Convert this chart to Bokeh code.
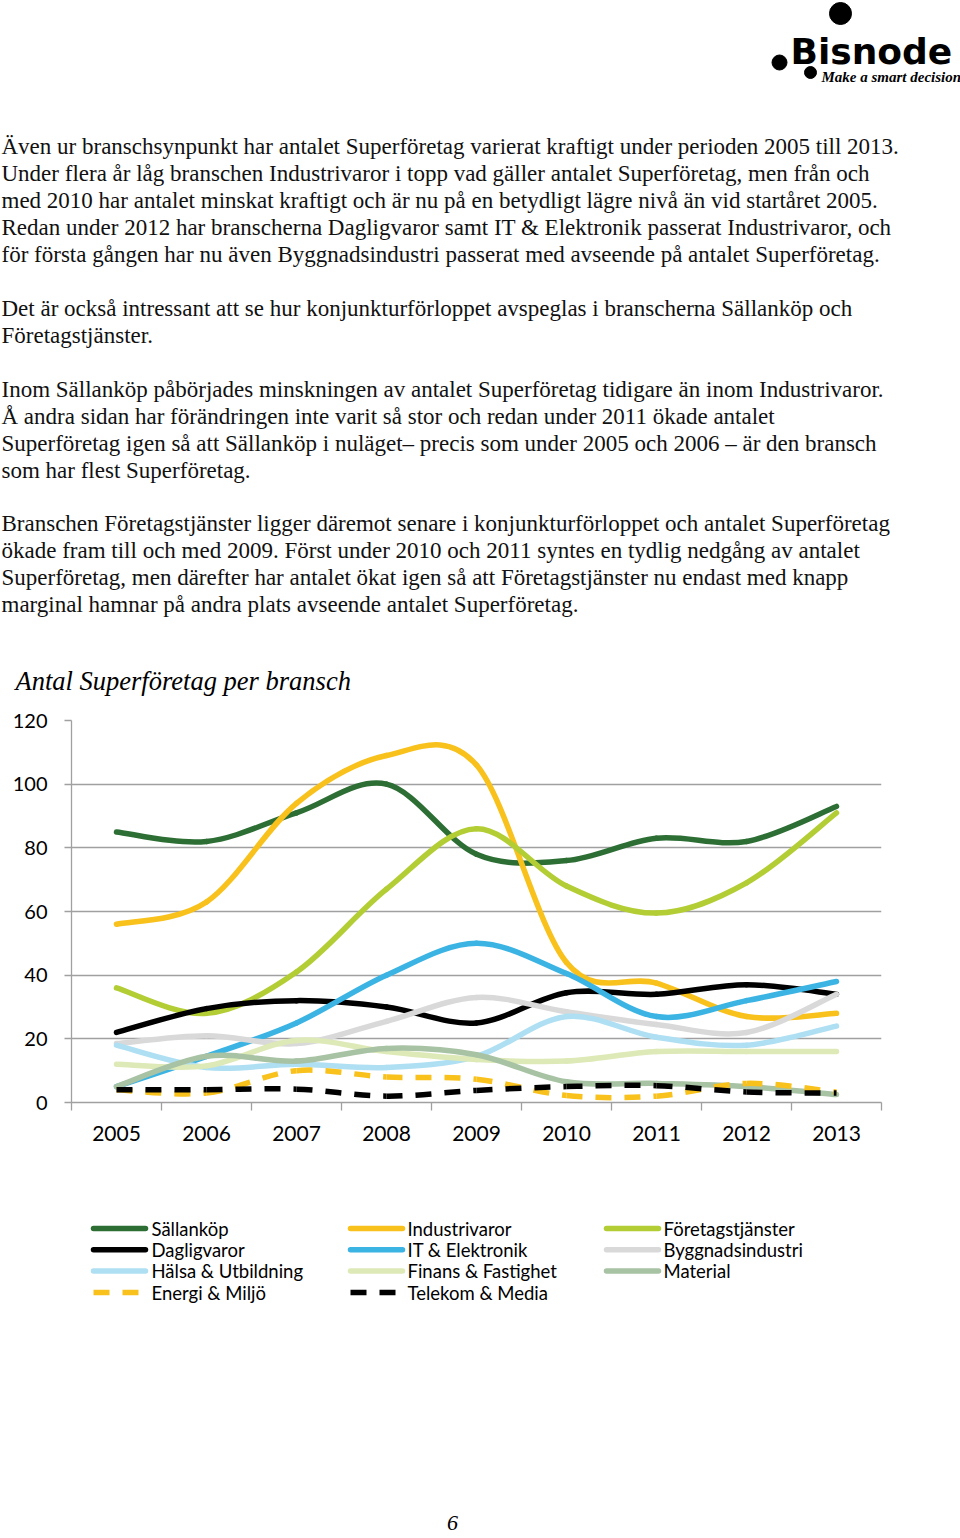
from bokeh.plotting import figure
from bokeh.layouts import column
from bokeh.models import Range1d, FixedTicker, ColumnDataSource
from bokeh.core.properties import value
from bokeh.embed import file_html
from bokeh.resources import INLINE

# ---------------- data ----------------
years = ["2005", "2006", "2007", "2008", "2009", "2010", "2011", "2012", "2013"]
y_ticks = [0, 20, 40, 60, 80, 100, 120]

series_names = ["Sällanköp", "Industrivaror", "Företagstjänster",
                "Dagligvaror", "IT & Elektronik", "Byggnadsindustri",
                "Hälsa & Utbildning", "Finans & Fastighet", "Material",
                "Energi & Miljö", "Telekom & Media"]

sallankop = [85, 82, 91, 100, 78, 76, 83, 82, 93]
industrivaror = [56, 63, 94, 109, 106, 44, 37.5, 27, 28]
foretagstjanster = [36, 28, 41, 67, 86, 68, 59.5, 69, 91]
dagligvaror = [22, 29.5, 32, 30, 25, 34.5, 34, 37, 34]
it_elektronik = [5, 14.5, 25, 40, 50, 40.5, 27, 32, 38]
byggnadsindustri = [18.5, 21, 18.5, 25.5, 33, 28.5, 24.5, 22, 34]
halsa_utbildning = [18, 11, 12, 11, 14.5, 27, 20.5, 18, 24]
finans_fastighet = [12, 11.5, 19.5, 16, 13.5, 13, 16, 16, 16]
material = [5, 14.5, 13, 17, 15, 6.5, 6, 5, 2.5]
energi_miljo = [4, 3, 10, 8, 7.3, 2.2, 2, 6, 3.3]
telekom_media = [4, 4, 4.2, 2, 3.8, 5, 5.3, 3.3, 3]

series_values = [sallankop, industrivaror, foretagstjanster, dagligvaror,
                 it_elektronik, byggnadsindustri, halsa_utbildning,
                 finans_fastighet, material, energi_miljo, telekom_media]

# ---------------- styles ----------------
colors = ["#2D6E34", "#F8C11C", "#B3CD34", "#000000", "#3BB4E4", "#D9D9D9",
          "#AEDFF2", "#DDE9B6", "#A8C2A4", "#F8C11C", "#000000"]
dashed = [False] * 9 + [True, True]
DASH = "16 13"
LW = 5.5

body_lines = [
    ["Även ur branschsynpunkt har antalet Superföretag varierat kraftigt under perioden 2005 till 2013.",
     "Under flera år låg branschen Industrivaror i topp vad gäller antalet Superföretag, men från och",
     "med 2010 har antalet minskat kraftigt och är nu på en betydligt lägre nivå än vid startåret 2005.",
     "Redan under 2012 har branscherna Dagligvaror samt IT & Elektronik passerat Industrivaror, och",
     "för första gången har nu även Byggnadsindustri passerat med avseende på antalet Superföretag."],
    ["Det är också intressant att se hur konjunkturförloppet avspeglas i branscherna Sällanköp och",
     "Företagstjänster."],
    ["Inom Sällanköp påbörjades minskningen av antalet Superföretag tidigare än inom Industrivaror.",
     "Å andra sidan har förändringen inte varit så stor och redan under 2011 ökade antalet",
     "Superföretag igen så att Sällanköp i nuläget– precis som under 2005 och 2006 – är den bransch",
     "som har flest Superföretag."],
    ["Branschen Företagstjänster ligger däremot senare i konjunkturförloppet och antalet Superföretag",
     "ökade fram till och med 2009. Först under 2010 och 2011 syntes en tydlig nedgång av antalet",
     "Superföretag, men därefter har antalet ökat igen så att Företagstjänster nu endast med knapp",
     "marginal hamnar på andra plats avseende antalet Superföretag."],
]
para_tops = [146, 308, 389, 523]
LINE_H = 26.9

W = 960
HA, HB, HC = 705, 455, 377

SERIF = "Liberation Serif"
SANS = "Lato"


def blank(h):
    p = figure(width=W, height=h, x_range=Range1d(0, W), y_range=Range1d(h, 0),
               output_backend="svg", toolbar_location=None,
               x_axis_location=None, y_axis_location=None,
               min_border=0, outline_line_color=None,
               background_fill_color="white", border_fill_color="white")
    p.grid.visible = False
    p.min_border_left = p.min_border_right = 0
    p.min_border_top = p.min_border_bottom = 0
    p.frame_align = False
    return p


# ---------------- header + text ----------------
pa = blank(HA)
# logo
pa.circle(x=[840, 779, 810], y=[13, 62, 72], radius=[11, 7.5, 6], color="black")
pa.text(x=[790], y=[51], text=["Bisnode"], text_font=value("DejaVu Sans"),
        text_font_size=value("36px"), text_font_style="bold", text_color="black",
        text_baseline="alphabetic", text_align="left")
pa.text(x=[821], y=[76], text=["Make a smart decision"], text_font=value(SERIF),
        text_font_size=value("15px"), text_font_style="bold italic", text_color="black",
        text_baseline="middle", text_align="left")

xs, ys, ts = [], [], []
for top, lines in zip(para_tops, body_lines):
    for i, t in enumerate(lines):
        xs.append(1)
        ys.append(top + i * LINE_H)
        ts.append(t)
pa.text(x=xs, y=ys, text=ts, text_font=value(SERIF), text_font_size=value("23px"),
        text_color="#111111", text_baseline="middle", text_align="left")

pa.text(x=[15], y=[680], text=["Antal Superföretag per bransch"], text_font=value(SERIF),
        text_font_size=value("26.5px"), text_font_style="italic", text_color="black",
        text_baseline="middle", text_align="left")

# ---------------- chart ----------------
pb = figure(width=W, height=HB, x_range=Range1d(-0.5, len(years) - 0.5),
            y_range=Range1d(0, 120), output_backend="svg", toolbar_location=None,
            min_border_left=71, min_border_right=79, min_border_top=15,
            min_border_bottom=58, outline_line_color=None,
            background_fill_color="white", border_fill_color="white")
pb.frame_align = False

GRAY = "#A0A0A0"
pb.xgrid.visible = False
pb.ygrid.grid_line_color = GRAY
pb.ygrid.grid_line_width = 1.3
pb.ygrid.ticker = FixedTicker(ticks=y_ticks)

pb.yaxis.ticker = FixedTicker(ticks=y_ticks)
pb.yaxis.axis_line_color = GRAY
pb.yaxis.axis_line_width = 1.3
pb.yaxis.major_tick_line_color = GRAY
pb.yaxis.major_tick_line_width = 1.3
pb.yaxis.major_tick_out = 7
pb.yaxis.major_tick_in = 0
pb.yaxis.minor_tick_line_color = None
pb.yaxis.major_label_text_font = SANS
pb.yaxis.major_label_text_font_size = "20px"
pb.yaxis.major_label_text_color = "black"
pb.yaxis.major_label_standoff = 17

pb.xaxis.ticker = FixedTicker(ticks=list(range(len(years))),
                              minor_ticks=[i - 0.5 for i in range(len(years) + 1)])
pb.xaxis.major_label_overrides = {i: y for i, y in enumerate(years)}
pb.xaxis.axis_line_color = GRAY
pb.xaxis.axis_line_width = 1.3
pb.xaxis.major_tick_line_color = None
pb.xaxis.major_tick_out = 8
pb.xaxis.major_tick_in = 0
pb.xaxis.minor_tick_line_color = GRAY
pb.xaxis.minor_tick_line_width = 1.3
pb.xaxis.minor_tick_out = 8
pb.xaxis.minor_tick_in = 0
pb.xaxis.major_label_text_font = SANS
pb.xaxis.major_label_text_font_size = "21px"
pb.xaxis.major_label_text_color = "black"
pb.xaxis.major_label_standoff = 15


def smooth_source(vals):
    n = len(vals)
    d = dict(x0=[], y0=[], x1=[], y1=[], cx0=[], cy0=[], cx1=[], cy1=[])
    for i in range(n - 1):
        i0 = max(i - 1, 0)
        i3 = min(i + 2, n - 1)
        d["x0"].append(i)
        d["y0"].append(vals[i])
        d["x1"].append(i + 1)
        d["y1"].append(vals[i + 1])
        d["cx0"].append(i + (i + 1 - i0) / 6)
        d["cy0"].append(vals[i] + (vals[i + 1] - vals[i0]) / 6)
        d["cx1"].append(i + 1 - (i3 - i) / 6)
        d["cy1"].append(vals[i + 1] - (vals[i3] - vals[i]) / 6)
    return ColumnDataSource(d)


for vals, col, dsh in zip(series_values, colors, dashed):
    src = smooth_source(vals)
    pb.bezier(x0="x0", y0="y0", x1="x1", y1="y1", cx0="cx0", cy0="cy0",
              cx1="cx1", cy1="cy1", source=src, line_color=col, line_width=LW,
              line_dash=DASH if dsh else "solid",
              line_cap="butt" if dsh else "round")

# ---------------- legend + page number ----------------
pc = blank(HC)
col_line_x = [93, 350, 606]
col_text_x = [151, 407, 663]
row_y = [68, 89.3, 110.6, 132]
for k, (name, col, dsh) in enumerate(zip(series_names, colors, dashed)):
    r, c = divmod(k, 3)
    pc.line(x=[col_line_x[c], col_line_x[c] + 52], y=[row_y[r], row_y[r]],
            line_color=col, line_width=LW, line_dash=DASH if dsh else "solid",
            line_cap="butt" if dsh else "round")
    pc.text(x=[col_text_x[c]], y=[row_y[r]], text=[name], text_font=value(SANS),
            text_font_size=value("18.5px"), text_color="black",
            text_baseline="middle", text_align="left")

pc.text(x=[452], y=[362], text=["6"], text_font=value(SERIF),
        text_font_size=value("22px"), text_font_style="italic", text_color="black",
        text_baseline="middle", text_align="center")

layout = column(pa, pb, pc, spacing=0)
open("out.html", "w").write(file_html(layout, INLINE))
